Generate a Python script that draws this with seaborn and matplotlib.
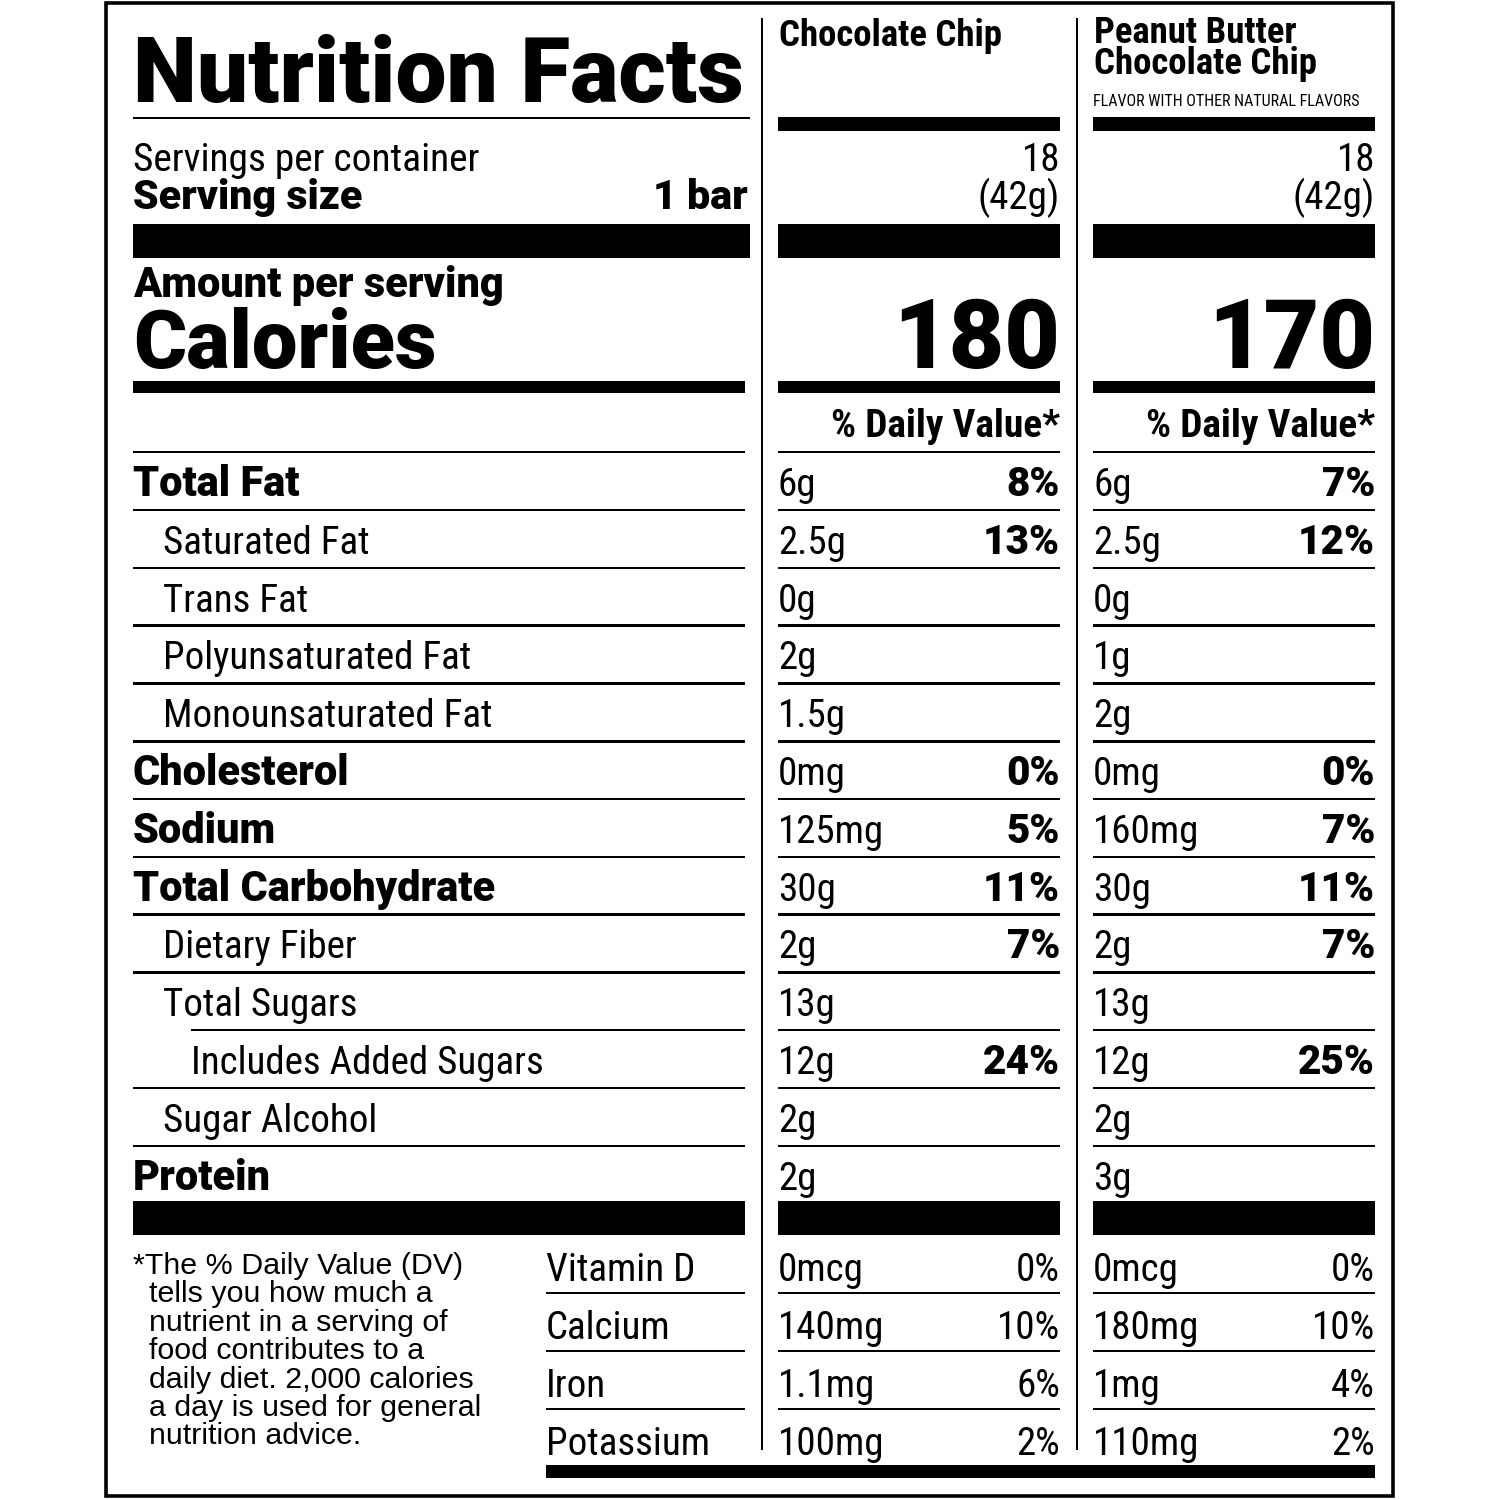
import matplotlib
matplotlib.use("Agg")
import matplotlib.pyplot as plt
import seaborn as sns
import pandas as pd
import numpy as np
from matplotlib import font_manager as fm
from matplotlib.patches import Rectangle

# ---------------- data ----------------
product_names = ["Chocolate Chip", "Peanut Butter\nChocolate Chip"]
product_note = ["", "FLAVOR WITH OTHER NATURAL FLAVORS"]
servings = ["18", "18"]
serving_g = ["(42g)", "(42g)"]
calories = [180, 170]

nutrients = ["Total Fat", "Saturated Fat", "Trans Fat", "Polyunsaturated Fat",
             "Monounsaturated Fat", "Cholesterol", "Sodium", "Total Carbohydrate",
             "Dietary Fiber", "Total Sugars", "Includes Added Sugars",
             "Sugar Alcohol", "Protein"]
indent_level = [0, 1, 1, 1, 1, 0, 0, 0, 1, 1, 2, 1, 0]
is_bold = [1, 0, 0, 0, 0, 1, 1, 1, 0, 0, 0, 0, 1]
amount_cc = ["6g", "2.5g", "0g", "2g", "1.5g", "0mg", "125mg", "30g", "2g", "13g", "12g", "2g", "2g"]
dv_cc = ["8%", "13%", "", "", "", "0%", "5%", "11%", "7%", "", "24%", "", ""]
amount_pb = ["6g", "2.5g", "0g", "1g", "2g", "0mg", "160mg", "30g", "2g", "13g", "12g", "2g", "3g"]
dv_pb = ["7%", "12%", "", "", "", "0%", "7%", "11%", "7%", "", "25%", "", ""]

vitamins = ["Vitamin D", "Calcium", "Iron", "Potassium"]
vit_amount_cc = ["0mcg", "140mg", "1.1mg", "100mg"]
vit_dv_cc = ["0%", "10%", "6%", "2%"]
vit_amount_pb = ["0mcg", "180mg", "1mg", "110mg"]
vit_dv_pb = ["0%", "10%", "4%", "2%"]

footnote = ["*The % Daily Value (DV)", "tells you how much a",
            "nutrient in a serving of", "food contributes to a",
            "daily diet. 2,000 calories", "a day is used for general",
            "nutrition advice."]

rows = pd.DataFrame({"nutrient": nutrients, "indent": indent_level, "bold": is_bold,
                     "amt0": amount_cc, "dv0": dv_cc, "amt1": amount_pb, "dv1": dv_pb})
vits = pd.DataFrame({"vitamin": vitamins, "amt0": vit_amount_cc, "dv0": vit_dv_cc,
                     "amt1": vit_amount_pb, "dv1": vit_dv_pb})

# ---------------- fonts ----------------
sns.set_theme(style="white")
plt.rcParams["font.family"] = ["Liberation Sans", "DejaVu Sans"]


def find_font(cands, weight="normal", must=None):
    for fam in cands:
        try:
            p = fm.findfont(fm.FontProperties(family=fam, weight=weight),
                            fallback_to_default=False)
        except Exception:
            continue
        if must and not any(m in p.lower() for m in must):
            continue
        return fm.FontProperties(fname=p)
    return None


NARROW = find_font(["Liberation Sans Narrow", "Roboto Condensed"]) or \
    fm.FontProperties(family=["Liberation Sans", "DejaVu Sans"])
NARROW_B = find_font(["Liberation Sans Narrow", "Roboto Condensed"], "bold") or \
    fm.FontProperties(family=["Liberation Sans", "DejaVu Sans"], weight="bold")
REG = find_font(["Liberation Sans", "DejaVu Sans"])
BOLD = find_font(["Liberation Sans", "DejaVu Sans"], "bold")
HEAVY = find_font(["Roboto", "Lato", "Open Sans"], 900, must=["black", "heavy", "extrabold"])
if HEAVY is None:
    HEAVY = BOLD
TITLE = HEAVY if HEAVY is not BOLD else find_font(["DejaVu Sans"], "bold")

# ---------------- figure ----------------
fig = plt.figure(figsize=(15, 15), dpi=100, facecolor="white")
ax = fig.add_axes([0, 0, 1, 1])
ax.set_xlim(0, 1500)
ax.set_ylim(1500, 0)
ax.axis("off")
fig.canvas.draw()
R = fig.canvas.get_renderer()


def width_of(s, fp, size):
    t = ax.text(0, 0, s, fontproperties=fp, fontsize=size)
    w = t.get_window_extent(R).width
    t.remove()
    return w


def fit(s, fp, target, ref=30.0):
    return ref * target / width_of(s, fp, ref)


def txt(x, y, s, fp, size, ha="left", **kw):
    return ax.text(x, y, s, fontproperties=fp, fontsize=size, ha=ha, va="baseline",
                   color="black", **kw)


def bar(x0, x1, y0, y1):
    ax.add_patch(Rectangle((x0, y0), x1 - x0, y1 - y0, facecolor="black",
                           edgecolor="none", lw=0))


def hline(y, x0, x1, th=2.6):
    bar(x0, x1, y - th / 2, y + th / 2)


# calibrated sizes
S_BODY = fit("Saturated Fat", NARROW, 207)
S_BOLD = fit("Total Carbohydrate", HEAVY, 362)
S_DV = fit("13%", HEAVY, 77)
S_FOOT = fit("*The % Daily Value (DV)", REG, 330)

L = (133, 745)
COLS = [(778, 1060), (1093, 1375)]

# outer border
ax.add_patch(Rectangle((106, 3), 1287, 1493, facecolor="none", edgecolor="black", lw=2.6))
# vertical separators
bar(761, 763, 18, 1450)
bar(1076, 1078, 18, 1450)

# ---- title / headers ----
txt(133, 102, "Nutrition Facts", TITLE, fit("Nutrition Facts", TITLE, 610))
hline(118, 133, 750, 2.4)

s_head = fit("Chocolate Chip", NARROW_B, 223)
txt(779, 46, product_names[0], NARROW_B, s_head)
ax.text(1094, 48.5, product_names[1], fontproperties=NARROW_B, fontsize=s_head,
        ha="left", va="center", linespacing=0.8, color="black")
txt(1093, 106, product_note[1], NARROW, fit(product_note[1], NARROW, 267))

for (x0, x1) in COLS:
    bar(x0, x1, 117, 131)

# servings
txt(133, 171, "Servings per container", NARROW, fit("Servings per container", NARROW, 347))
s_ss = fit("Serving size", HEAVY, 229)
txt(133, 209, "Serving size", HEAVY, s_ss)
txt(748, 209, "1 bar", HEAVY, s_ss, ha="right")
for i, (x0, x1) in enumerate(COLS):
    txt(x1, 171, servings[i], NARROW, S_BODY, ha="right")
    txt(x1, 209, serving_g[i], NARROW, S_BODY, ha="right")

bar(133, 750, 224, 258)
for (x0, x1) in COLS:
    bar(x0, x1, 224, 258)

# calories
txt(133, 297, "Amount per serving", HEAVY, fit("Amount per serving", HEAVY, 370))
txt(133, 368, "Calories", HEAVY, fit("Calories", HEAVY, 303))
s_cal = fit("180", HEAVY, 167)
for i, (x0, x1) in enumerate(COLS):
    txt(x1, 368, str(calories[i]), HEAVY, s_cal, ha="right")

bar(133, 745, 381, 393)
for (x0, x1) in COLS:
    bar(x0, x1, 381, 393)

s_dvh = fit("% Daily Value*", NARROW_B, 229)
for (x0, x1) in COLS:
    txt(x1, 437, "% Daily Value*", NARROW_B, s_dvh, ha="right")

hline(452, *L)
for (x0, x1) in COLS:
    hline(452, x0, x1)

# ---- nutrient rows ----
ROW0, STEP = 481, 57.8
indent_x = [133, 163, 191]
for i, r in rows.iterrows():
    yc = ROW0 + STEP * i
    base = yc + 15
    if r["bold"]:
        txt(133, base, r["nutrient"], HEAVY, S_BOLD)
    else:
        txt(indent_x[r["indent"]], base, r["nutrient"], NARROW, S_BODY)
    for k, (x0, x1) in enumerate(COLS):
        txt(x0, base, r[f"amt{k}"], NARROW, S_BODY)
        if r[f"dv{k}"]:
            txt(x1, base, r[f"dv{k}"], HEAVY, S_DV, ha="right")
    if i < len(rows) - 1:
        yl = yc + 29
        lx0 = 191 if r["nutrient"] == "Total Sugars" else 133
        hline(yl, lx0, L[1])
        for (x0, x1) in COLS:
            hline(yl, x0, x1)

bar(133, 745, 1201, 1235)
for (x0, x1) in COLS:
    bar(x0, x1, 1201, 1235)

# ---- footnote ----
for j, line in enumerate(footnote):
    txt(133 if j == 0 else 149, 1274 + 28.4 * j, line, REG, S_FOOT)

# ---- vitamins ----
for i, r in vits.iterrows():
    yc = 1266 + 58 * i
    base = yc + 15
    txt(546, base, r["vitamin"], NARROW, S_BODY)
    for k, (x0, x1) in enumerate(COLS):
        txt(x0, base, r[f"amt{k}"], NARROW, S_BODY)
        txt(x1, base, r[f"dv{k}"], NARROW, S_BODY, ha="right")
    if i < len(vits) - 1:
        yl = yc + 27
        hline(yl, 546, L[1])
        for (x0, x1) in COLS:
            hline(yl, x0, x1)

bar(546, 1375, 1465, 1478)

fig.savefig("out.png", dpi=100, facecolor="white")
